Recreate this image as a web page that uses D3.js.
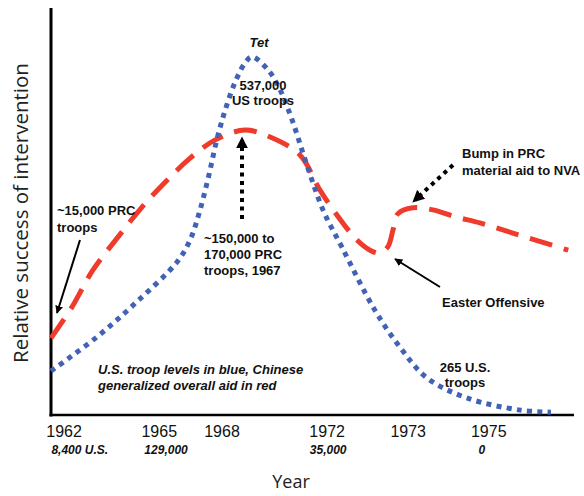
<!DOCTYPE html>
<html><head><meta charset="utf-8">
<script src="https://cdn.jsdelivr.net/npm/d3@7"></script>
<style>body{margin:0;background:#fff}svg{display:block}</style>
</head><body>
<script>
// ---- data (x: relative timeline units 0-100, y: relative success 0-100) ----
const xTicks = ["1962","1965","1968","1972","1973","1975"];
const xTickPos = [2.5, 20.7, 32.7, 52.8, 68.3, 83.7];
const troopLabels = ["8,400 U.S.","129,000","35,000","0"];
const troopLabelPos = [5.5, 22.0, 53.0, 82.4];

const usX = [0, 8.8, 16.4, 24.1, 26.6, 28.5, 30.2, 31.7, 33.3, 35.2, 37.1, 38.4, 41.5, 43.8, 46.1, 48.6, 52.0, 55.6, 61.9, 66.7, 71.9, 79.5, 89.7, 95.6];
const usY = [10.8, 19.2, 27.8, 37.6, 43.0, 50.4, 59.0, 67.6, 74.9, 81.8, 86.5, 88.0, 84.8, 79.9, 72.5, 62.7, 50.4, 41.3, 25.8, 16.7, 9.1, 4.2, 1.2, 0.7];

const prcX = [0, 4.0, 8.0, 12.8, 17.4, 22.2, 26.6, 31.4, 37.1, 41.9, 47.6, 51.4, 54.7, 58.5, 61.0, 62.9, 64.4, 65.4, 66.3, 69.2, 73.0, 77.6, 82.0, 88.3, 98.9];
const prcY = [18.9, 26.5, 35.6, 43.7, 51.1, 57.7, 63.1, 67.6, 70.0, 68.3, 63.9, 55.3, 49.1, 43.0, 40.5, 39.8, 41.3, 45.5, 49.4, 50.9, 50.4, 48.6, 47.2, 44.7, 40.5];

const W = 584, H = 496;
const svg = d3.select("body").append("svg").attr("width", W).attr("height", H);
const x = d3.scaleLinear().domain([0, 100]).range([51, 574]);
const y = d3.scaleLinear().domain([0, 100]).range([415, 8]);

const defs = svg.append("defs");
defs.append("marker").attr("id","ah").attr("viewBox","0 0 10 10").attr("refX",9).attr("refY",5)
  .attr("markerWidth",4).attr("markerHeight",4).attr("orient","auto").attr("markerUnits","strokeWidth")
  .append("path").attr("d","M0,0L10,5L0,10z").attr("fill","#000");
defs.append("marker").attr("id","ahd").attr("viewBox","0 0 10 10").attr("refX",7).attr("refY",5)
  .attr("markerWidth",3).attr("markerHeight",3).attr("orient","auto").attr("markerUnits","strokeWidth")
  .append("path").attr("d","M0,0L10,5L0,10z").attr("fill","#000");

// axes lines
svg.append("line").attr("x1",x(0)).attr("x2",x(0)).attr("y1",y(100)).attr("y2",y(0)+1.5)
  .attr("stroke","#000").attr("stroke-width",3);
svg.append("line").attr("x1",x(0)-1.5).attr("x2",x(100)).attr("y1",y(0)).attr("y2",y(0))
  .attr("stroke","#000").attr("stroke-width",2.5);

// tick labels
svg.selectAll(".tk").data(xTicks).enter().append("text")
  .attr("x",(d,i)=>x(xTickPos[i])).attr("y",437).attr("text-anchor","middle")
  .attr("font-family","Liberation Sans, Arial, sans-serif").attr("font-size",16).attr("fill","#111").text(d=>d);
svg.selectAll(".tl").data(troopLabels).enter().append("text")
  .attr("x",(d,i)=>x(troopLabelPos[i])).attr("y",454).attr("text-anchor","middle")
  .attr("font-family","Liberation Sans, Arial, sans-serif").attr("font-size",12).attr("font-weight","bold")
  .attr("font-style","italic").attr("fill","#111").text(d=>d);

// axis titles
svg.append("text").attr("x",291).attr("y",488).attr("text-anchor","middle")
  .attr("font-family","Open Sans, sans-serif").attr("font-size",18).attr("fill","#222").text("Year");
svg.append("text").attr("transform","translate(28,213) rotate(-90)").attr("text-anchor","middle")
  .attr("font-family","Open Sans, sans-serif").attr("font-size",20.5).attr("fill","#222")
  .text("Relative success of intervention");

// curves
const line = d3.line().x(d=>x(d[0])).y(d=>y(d[1])).curve(d3.curveCatmullRom.alpha(0.5));
svg.append("path").datum(prcX.map((v,i)=>[v,prcY[i]])).attr("d",line)
  .attr("fill","none").attr("stroke","#ef3b2c").attr("stroke-width",5).attr("stroke-dasharray","23,12");
svg.append("path").datum(usX.map((v,i)=>[v,usY[i]])).attr("d",line)
  .attr("fill","none").attr("stroke","#4262b5").attr("stroke-width",5).attr("stroke-dasharray","5,5.3");

// arrows
function arrow(x1,y1,x2,y2,dotted){
  const l = svg.append("line").attr("x1",x1).attr("y1",y1).attr("x2",x2).attr("y2",y2).attr("stroke","#000");
  if(dotted){ l.attr("stroke-width",4).attr("stroke-dasharray","4,4.5").attr("marker-end","url(#ahd)"); }
  else { l.attr("stroke-width",2).attr("marker-end","url(#ah)"); }
}
arrow(80,240,57,313,false);
arrow(440,287,395,259,false);
arrow(242,219,242,140,true);
arrow(453,165,415,200,true);

// annotations
function label(lines, xx, yy, opts){
  const o = Object.assign({size:13, italic:false, anchor:"start", lh:16}, opts||{});
  const t = svg.append("text").attr("font-family","Liberation Sans, Arial, sans-serif")
    .attr("font-size",o.size).attr("font-weight","bold").attr("fill","#111")
    .attr("font-style",o.italic?"italic":"normal").attr("text-anchor",o.anchor);
  lines.forEach((s,i)=>t.append("tspan").attr("x",xx).attr("y",yy+i*o.lh).text(s));
}
label(["Tet"], 259, 47, {italic:true, anchor:"middle"});
label(["537,000","US troops"], 263, 90, {anchor:"middle", lh:15});
label(["~15,000 PRC","troops"], 57, 215, {lh:17});
label(["~150,000 to","170,000 PRC","troops, 1967"], 204, 243, {lh:16});
label(["Bump in PRC","material aid to NVA"], 462, 158, {lh:17});
label(["Easter Offensive"], 442, 307);
label(["U.S. troop levels in blue, Chinese","generalized overall aid in red"], 98, 374, {italic:true, lh:16});
label(["265 U.S.","troops"], 465, 372, {anchor:"middle", lh:15});
</script>
</body></html>
